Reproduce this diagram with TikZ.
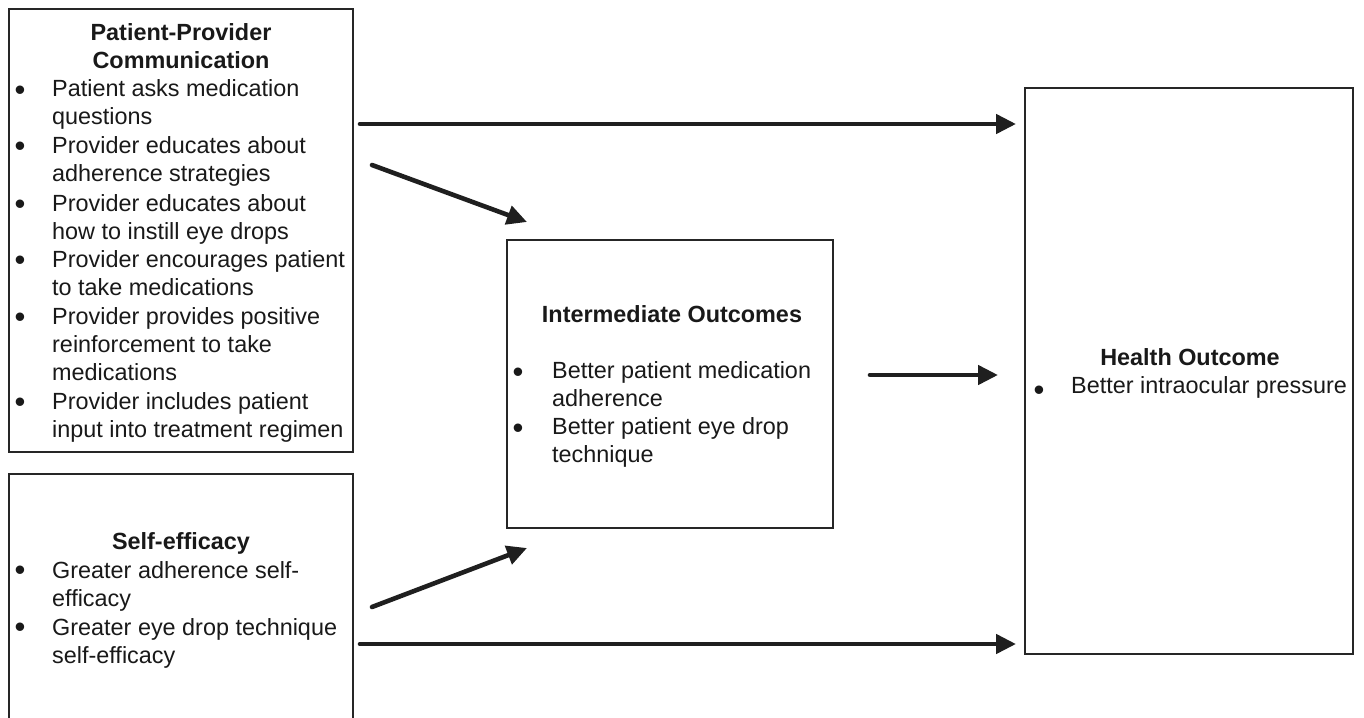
\documentclass[tikz,border=0pt]{standalone}
\usepackage{fontspec}
\setmainfont{Liberation Sans}
\usetikzlibrary{arrows.meta}
\begin{document}
\begin{tikzpicture}[x=1pt,y=-1pt,
  boxstyle/.style={draw=black!85, line width=1.4pt},
  txt/.style={anchor=base west, inner sep=0pt, align=left, font=\fontsize{23.4}{27.8}\selectfont, text=black!90},
  ttl/.style={anchor=base, inner sep=0pt, align=center, font=\fontsize{23.4}{27.8}\selectfont\bfseries, text=black!90},
  bul/.style={anchor=base, inner sep=0pt, font=\fontsize{31}{31}\selectfont, text=black!90},
  conn/.style={line width=4.6pt, draw=black!88, line cap=round, -{Triangle[length=20pt,width=19pt]}},
]
\useasboundingbox (0,0) rectangle (1364,717);
\fill[white] (0,0) rectangle (1364,717);

% boxes
\draw[boxstyle] (9,9) rectangle (353,452);
\node[inner sep=0pt] (ppc) at (181,230) {};
\draw[boxstyle] (9,730) -- (9,474) -- (353,474) -- (353,730);
\node[inner sep=0pt] (se) at (181,600) {};
\draw[boxstyle] (507,240) rectangle (833,528);
\node[inner sep=0pt] (io) at (670,384) {};
\draw[boxstyle] (1025,88) rectangle (1353,654);
\node[inner sep=0pt] (ho) at (1189,371) {};

% Patient-Provider Communication (anchors at baseline of last line)
\node[ttl] (t1) at (181,68) {Patient-Provider\\Communication};
\node[bul] (b11) at (20,100) {\textbullet};
\node[txt] (i11) at (52,124) {Patient asks medication\\questions};
\node[bul] (b12) at (20,156) {\textbullet};
\node[txt] (i12) at (52,181) {Provider educates about\\adherence strategies};
\node[bul] (b13) at (20,214) {\textbullet};
\node[txt] (i13) at (52,239) {Provider educates about\\how to instill eye drops};
\node[bul] (b14) at (20,270) {\textbullet};
\node[txt] (i14) at (52,295) {Provider encourages patient\\to take medications};
\node[bul] (b15) at (20,327) {\textbullet};
\node[txt] (i15) at (52,380) {Provider provides positive\\reinforcement to take\\medications};
\node[bul] (b16) at (20,412) {\textbullet};
\node[txt] (i16) at (52,437) {Provider includes patient\\input into treatment regimen};

% Self-efficacy
\node[ttl] (t2) at (181,549) {Self-efficacy};
\node[bul] (b21) at (20,580) {\textbullet};
\node[txt] (i21) at (52,606) {Greater adherence self-\\efficacy};
\node[bul] (b22) at (20,637) {\textbullet};
\node[txt] (i22) at (52,663) {Greater eye drop technique\\self-efficacy};

% Intermediate Outcomes
\node[ttl] (t3) at (672,322) {Intermediate Outcomes};
\node[bul] (b31) at (518,382) {\textbullet};
\node[txt] (i31) at (552,406) {Better patient medication\\adherence};
\node[bul] (b32) at (518,438) {\textbullet};
\node[txt] (i32) at (552,462) {Better patient eye drop\\technique};

% Health Outcome
\node[ttl] (t4) at (1190,365) {Health Outcome};
\node[bul] (b41) at (1039,400) {\textbullet};
\node[txt] (i41) at (1071,393) {Better intraocular pressure};

% connector end points
\coordinate (a1s) at (360,124);  \coordinate (a1e) at (1016,124);
\coordinate (a2s) at (372,165);  \coordinate (a2e) at (527,222);
\coordinate (a3s) at (870,375);  \coordinate (a3e) at (998,375);
\coordinate (a4s) at (372,607);  \coordinate (a4e) at (527,548);
\coordinate (a5s) at (360,644);  \coordinate (a5e) at (1016,644);

\draw[conn] (a1s) -- (a1e);
\draw[conn] (a2s) -- (a2e);
\draw[conn] (a3s) -- (a3e);
\draw[conn] (a4s) -- (a4e);
\draw[conn] (a5s) -- (a5e);
\end{tikzpicture}
\end{document}
